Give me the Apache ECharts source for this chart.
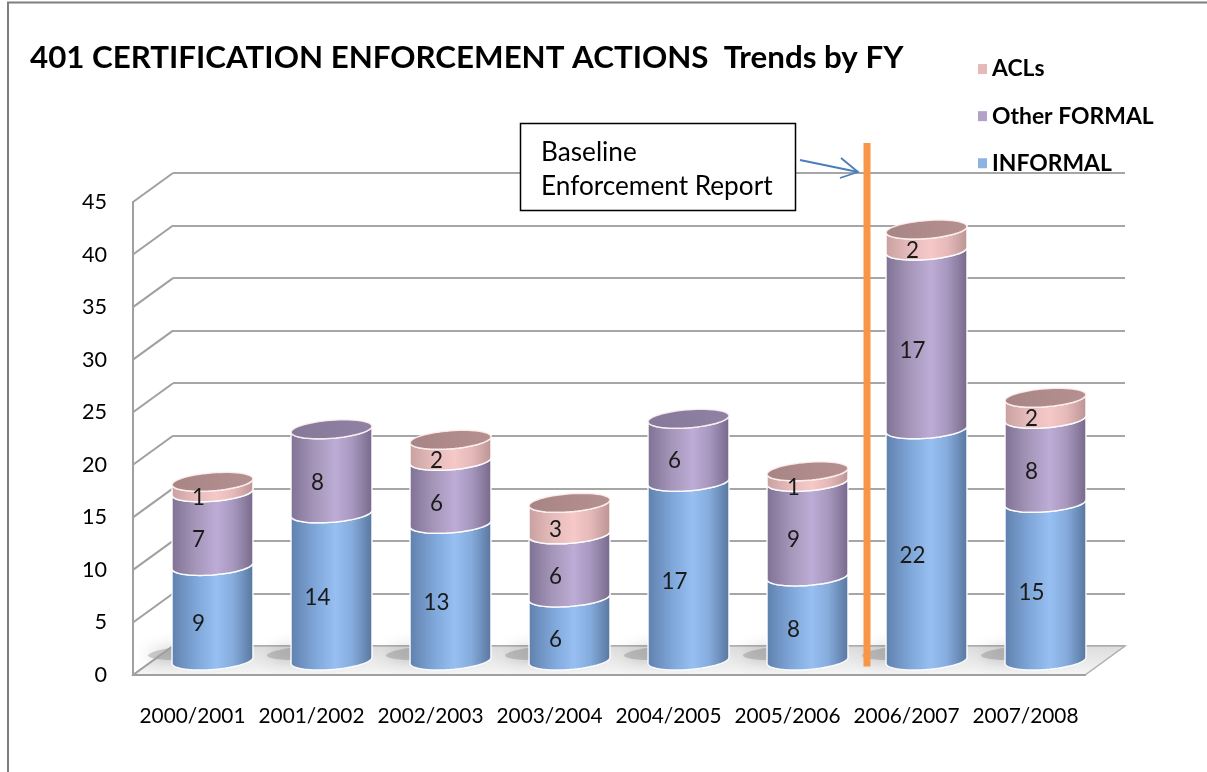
<!DOCTYPE html>
<html>
<head>
<meta charset="utf-8">
<title>401 Certification Enforcement Actions</title>
<script src="https://cdn.jsdelivr.net/npm/echarts@6/dist/echarts.min.js"></script>
<style>
    html, body { margin: 0; padding: 0; background: #fff; }
    #chart { width: 1207px; height: 772px; }
</style>
</head>
<body>
<div id="chart"></div>
<script>
// data
var years = ['2000/2001', '2001/2002', '2002/2003', '2003/2004', '2004/2005', '2005/2006', '2006/2007', '2007/2008'];
var informal = [9, 14, 13, 6, 17, 8, 22, 15];
var otherFormal = [7, 8, 6, 6, 6, 9, 17, 8];
var acls = [1, 0, 2, 3, 0, 1, 2, 2];
var yMin = 0, yMax = 45, yStep = 5;

// layout of the fake 3d box: front plane, depth offset of the back wall
var front = { left: 133, top: 202, width: 952, height: 473 };
var depth = { dx: 40, dy: -29 };
function shifted(k) {
    return { left: front.left + depth.dx * k, top: front.top + depth.dy * k, width: front.width, height: front.height };
}
var back = shifted(1), mid = shifted(0.5);

var FONT = 'Lato';
var measure = document.createElement('canvas').getContext('2d');
// pick a font size so the text gets the same width as in the picture
function fitSize(text, weight, width) {
    measure.font = weight + ' 100px ' + FONT;
    return Math.round(1000 * width / measure.measureText(text).width) / 10;
}
var titleText = '401 CERTIFICATION ENFORCEMENT ACTIONS  Trends by FY';
var titleSize = fitSize(titleText, 'bold', 873);
var xLabelSize = fitSize('2000/2001', 'normal', 106);
var yLabelSize = fitSize('45', 'normal', 25);
var valueSize = fitSize('14', 'normal', 26);
var legendSize = fitSize('Other FORMAL', 'bold', 162);
var boxSize = fitSize('Enforcement Report', 'normal', 232);

function totalAt(i) { return informal[i] + otherFormal[i] + acls[i]; }
// [category, base, value, isTopSegment]
function segments(values, below) {
    return values.map(function (v, i) {
        var base = 0;
        below.forEach(function (arr) { base += arr[i]; });
        return [i, base, v, (v > 0 && base + v === totalAt(i)) ? 1 : 0];
    });
}

var RY = 9, TILT = 3;
function ellipsePts(cx, cy, rx, t0, t1, n, ry) {
    ry = ry || RY;
    var pts = [];
    for (var j = 0; j <= n; j++) {
        var t = t0 + (t1 - t0) * j / n;
        var c = Math.cos(t);
        pts.push([cx + rx * c, cy + ry * Math.sin(t) - TILT * c]);
    }
    return pts;
}
function hGrad(stops) {
    return {
        type: 'linear', x: 0, y: 0, x2: 1, y2: 0,
        colorStops: stops.map(function (s) { return { offset: s[0], color: s[1] }; })
    };
}

function cylinderItem(side, top) {
    return function (params, api) {
        var cat = api.value(0), base = api.value(1), val = api.value(2), isTop = api.value(3);
        if (!val) return;
        var p0 = api.coord([cat, base]);
        var p1 = api.coord([cat, base + val]);
        var rx = api.size([1, 0])[0] * 0.68 / 2;
        var cx = p0[0];
        var pts = [[cx - rx, p0[1] + TILT]]
            .concat(ellipsePts(cx, p1[1], rx, Math.PI, 0, 30))
            .concat(ellipsePts(cx, p0[1], rx, 0, Math.PI, 30));
        var children = [{
            type: 'polygon',
            shape: { points: pts },
            style: { fill: hGrad(side), stroke: 'rgba(255,255,255,0.9)', lineWidth: 1.5 }
        }];
        if (isTop) {
            children.push({
                type: 'polygon',
                shape: { points: ellipsePts(cx, p1[1], rx, 0, Math.PI * 2, 60) },
                style: { fill: hGrad(top), stroke: 'rgba(255,240,240,0.9)', lineWidth: 1.5 }
            });
        }
        children.push({
            type: 'text',
            style: {
                text: String(val), x: cx - 14, y: (p0[1] + p1[1]) / 2 + 11,
                align: 'center', verticalAlign: 'middle',
                fill: '#1a1a1a', font: valueSize + 'px ' + FONT
            },
            z2: 10
        });
        return { type: 'group', children: children };
    };
}

// soft shadow streak on the floor, behind and left of each cylinder
function shadowItem(params, api) {
    var p = api.coord([api.value(0), 0]);
    var rx = api.size([1, 0])[0] * 0.68 / 2;
    return {
        type: 'polygon',
        shape: { points: ellipsePts(p[0] - 18, p[1] - 8, rx + 6, 0, Math.PI * 2, 40, 7) },
        style: { fill: 'rgba(120,120,120,0.35)', shadowBlur: 16, shadowColor: 'rgba(90,90,90,0.9)' }
    };
}

var blueSide = [[0, '#5f80ad'], [0.3, '#7fa6d8'], [0.55, '#97bff1'], [0.75, '#86acdd'], [1, '#57759d']];
var purpleSide = [[0, '#7f7194'], [0.3, '#a596ba'], [0.55, '#bdacd5'], [0.75, '#a898bf'], [1, '#76688a']];
var pinkSide = [[0, '#c9a0a0'], [0.3, '#e6bcbc'], [0.55, '#f6c8c8'], [0.75, '#e6baba'], [1, '#bb9393']];
var blueTop = [[0, '#6d8dba'], [1, '#7d9ccb']];
var purpleTop = [[0, '#857899'], [1, '#8f82a4']];
var pinkTop = [[0, '#a88585'], [1, '#b59090']];

var chart = echarts.init(document.getElementById('chart'));

function valueAxis(gridIndex, extra) {
    return Object.assign({
        type: 'value', gridIndex: gridIndex, min: yMin, max: yMax, interval: yStep,
        axisLine: { show: false }, axisTick: { show: false },
        axisLabel: { show: false }, splitLine: { show: false }
    }, extra);
}
function catAxis(gridIndex, extra) {
    return Object.assign({
        type: 'category', gridIndex: gridIndex, data: years,
        axisLine: { show: false }, axisTick: { show: false },
        axisLabel: { show: false }, splitLine: { show: false }
    }, extra);
}

var option = {
    animation: false,
    backgroundColor: '#fff',
    title: {
        text: titleText,
        left: 30, top: 58 - titleSize / 2, padding: 0,
        textStyle: { fontFamily: FONT, fontWeight: 'bold', fontSize: titleSize, color: '#000' }
    },
    legend: {
        data: ['ACLs', 'Other FORMAL', 'INFORMAL'],
        orient: 'vertical', left: 973, top: 64 - legendSize / 2,
        icon: 'rect', itemWidth: 9, itemHeight: 10, itemGap: 47 - legendSize,
        selectedMode: false,
        textStyle: { fontFamily: FONT, fontWeight: 'bold', fontSize: legendSize, color: '#000' }
    },
    grid: [back, front, mid].map(function (g) {
        return { left: g.left, top: g.top, width: g.width, height: g.height };
    }),
    xAxis: [
        catAxis(0),
        catAxis(1, {
            axisLine: { show: true, lineStyle: { color: '#a0a0a0', width: 2 } },
            axisLabel: {
                show: true, interval: 0, color: '#000', fontFamily: FONT,
                fontSize: xLabelSize, margin: 41 - xLabelSize / 2
            }
        }),
        catAxis(2)
    ],
    yAxis: [
        valueAxis(0, { splitLine: { show: true, lineStyle: { color: '#a6a6a6', width: 2 } } }),
        valueAxis(1, {
            axisLine: { show: true, lineStyle: { color: '#a0a0a0', width: 2 } },
            axisLabel: { show: true, color: '#000', fontFamily: FONT, fontSize: yLabelSize, margin: 26 }
        }),
        valueAxis(2)
    ],
    series: [
        {
            name: 'shadow', type: 'custom', xAxisIndex: 2, yAxisIndex: 2, z: 1,
            renderItem: shadowItem, data: years.map(function (y, i) { return [i]; }),
            silent: true, tooltip: { show: false }
        },
        {
            name: 'INFORMAL', type: 'custom', xAxisIndex: 2, yAxisIndex: 2, z: 3,
            itemStyle: { color: '#8db3e2' },
            renderItem: cylinderItem(blueSide, blueTop),
            data: segments(informal, [])
        },
        {
            name: 'Other FORMAL', type: 'custom', xAxisIndex: 2, yAxisIndex: 2, z: 3,
            itemStyle: { color: '#b3a2c7' },
            renderItem: cylinderItem(purpleSide, purpleTop),
            data: segments(otherFormal, [informal])
        },
        {
            name: 'ACLs', type: 'custom', xAxisIndex: 2, yAxisIndex: 2, z: 3,
            itemStyle: { color: '#e6b9b8' },
            renderItem: cylinderItem(pinkSide, pinkTop),
            data: segments(acls, [informal, otherFormal])
        }
    ]
};
chart.setOption(option);

// walls, floor and the annotations, placed from the axes
var graphics = [];
var frontRight = front.left + front.width;
var backY0 = chart.convertToPixel({ yAxisIndex: 0 }, 0);
var frontY0 = chart.convertToPixel({ yAxisIndex: 1 }, 0);
graphics.push({
    type: 'polygon', z: 0,
    shape: { points: [[front.left, frontY0], [frontRight, frontY0], [frontRight + depth.dx, backY0], [back.left, backY0]] },
    style: {
        fill: { type: 'linear', x: 0, y: 0, x2: 0, y2: 1, colorStops: [{ offset: 0, color: '#dcdcdc' }, { offset: 1, color: '#f6f6f6' }] },
        stroke: '#b0b0b0', lineWidth: 1.5
    }
});
for (var v = yMin; v <= yMax; v += yStep) {
    var yf = chart.convertToPixel({ yAxisIndex: 1 }, v);
    var yb = chart.convertToPixel({ yAxisIndex: 0 }, v);
    graphics.push({
        type: 'line', z: 1,
        shape: { x1: front.left, y1: yf, x2: back.left, y2: yb },
        style: { stroke: '#a0a0a0', lineWidth: 2 }
    });
}
// baseline marker between 2005/2006 and 2006/2007
var xBase = (chart.convertToPixel({ xAxisIndex: 2 }, 5) + chart.convertToPixel({ xAxisIndex: 2 }, 6)) / 2;
var yMid0 = chart.convertToPixel({ yAxisIndex: 2 }, 0);
graphics.push({
    type: 'line', z: 20,
    shape: { x1: xBase, y1: 143, x2: xBase, y2: yMid0 + 6 },
    style: { stroke: '#f79646', lineWidth: 7 }
});
graphics.push({
    type: 'rect', z: 20,
    shape: { x: 520.5, y: 123.5, width: 275, height: 87 },
    style: { fill: '#fff', stroke: '#000', lineWidth: 1.5 }
});
graphics.push({
    type: 'text', z: 21,
    style: { text: 'Baseline', x: 541, y: 153, verticalAlign: 'middle', fill: '#000', font: boxSize + 'px ' + FONT }
});
graphics.push({
    type: 'text', z: 21,
    style: { text: 'Enforcement Report', x: 541, y: 187, verticalAlign: 'middle', fill: '#000', font: boxSize + 'px ' + FONT }
});
graphics.push({
    type: 'polyline', z: 21,
    shape: { points: [[800, 160], [858, 172]] },
    style: { stroke: '#4a7ebb', lineWidth: 1.8 }
});
graphics.push({
    type: 'polyline', z: 21,
    shape: { points: [[841, 158], [858, 172], [840, 178]] },
    style: { stroke: '#4a7ebb', lineWidth: 1.8, fill: null }
});
// page frame
graphics.push({
    type: 'rect', z: 30, silent: true,
    shape: { x: 8, y: 2.5, width: 1220, height: 800 },
    style: { fill: null, stroke: '#7f7f7f', lineWidth: 2 }
});
chart.setOption({ graphic: graphics });
</script>
</body>
</html>
